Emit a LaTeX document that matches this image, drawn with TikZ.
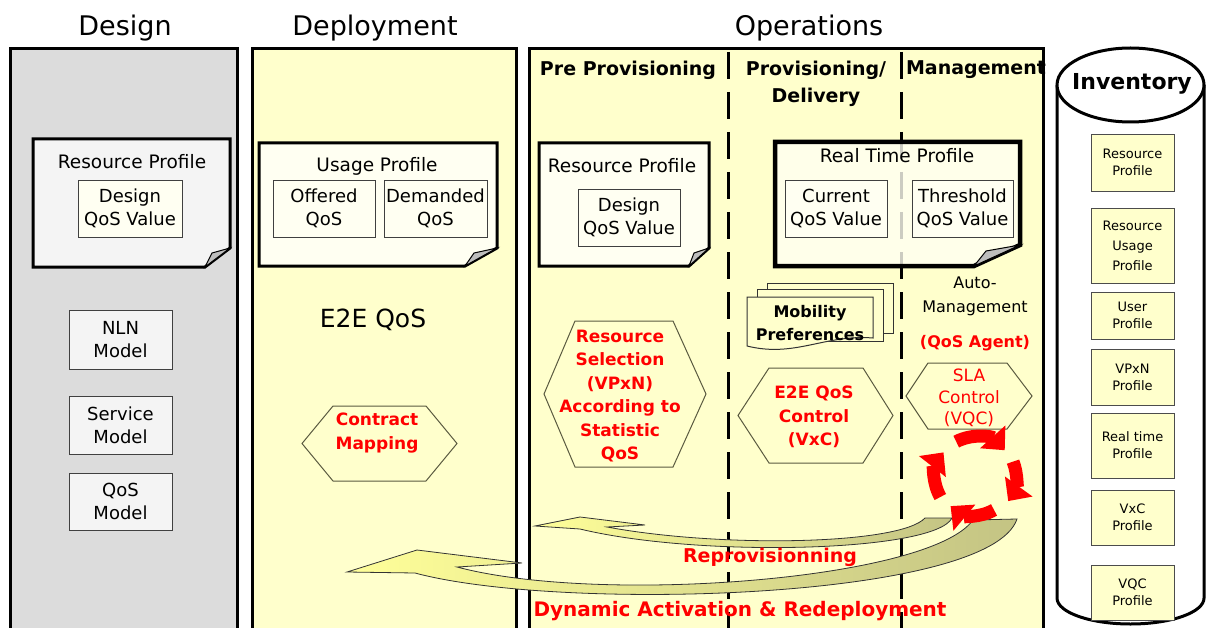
\documentclass[tikz,border=0pt]{standalone}
\usepackage{fontspec}
\setmainfont{DejaVu Sans}
\usepackage{xcolor}
\usepackage{tikz}
\usetikzlibrary{arrows.meta,positioning}

\definecolor{paneltan}{HTML}{FFFFCC}
\definecolor{designgrey}{HTML}{DCDCDC}
\definecolor{sheetgrey}{HTML}{F4F4F4}
\definecolor{sheetcream}{HTML}{FFFFF2}
\definecolor{foldgrey}{HTML}{BDBDBD}
\definecolor{hexline}{HTML}{5A5A40}
\definecolor{sweepyellow}{HTML}{FFFF99}
\definecolor{sweepolive}{HTML}{C4C484}
\definecolor{alarmred}{HTML}{FF0000}
\newcommand{\setfs}[2]{\fontsize{#1}{#2}\selectfont}

\begin{document}
\begin{tikzpicture}[x=1pt, y=-1pt,
        panel/.style={draw=black, line width=3pt},
        sheet/.style={draw=black, line width=3pt, line join=miter},
        fold/.style={draw=black, line width=1pt, fill=foldgrey},
        valbox/.style={draw=black!75, line width=0.9pt, fill=sheetcream, align=center, inner sep=0pt, font=\setfs{18}{23}},
        modelbox/.style={draw=black!75, line width=1pt, fill=sheetgrey, align=center, inner sep=0pt, minimum width=103pt, font=\setfs{18}{23}},
        invbox/.style={draw=black!70, line width=0.8pt, fill=paneltan, align=center, inner sep=0pt, minimum width=83pt, font=\setfs{13}{17}},
        hexa/.style={draw=hexline, line width=1pt, fill=paneltan},
        hextext/.style={text=alarmred, align=center, font=\setfs{17}{23.5}\bfseries},
        colhead/.style={font=\setfs{27}{30}},
        subhead/.style={align=center, font=\setfs{19}{27}\bfseries},
        sheettitle/.style={font=\setfs{18.5}{22}},
        divider/.style={line width=3pt, dash pattern=on 27pt off 13pt},
        sweep/.style={draw=black!80, line width=0.8pt, left color=sweepyellow, right color=sweepolive},
        cyclearrow/.style={alarmred, line width=13pt, -{Triangle[width=33pt,length=18pt]}},
        cyl/.style={draw=black, line width=3pt, fill=white}]
        \useasboundingbox (0,0) rectangle (1206,628);
        \fill[white] (0,0) rectangle (1206,628);

        \node[colhead] (design) at (125,28) {Design};
        \node[colhead] (deploy) at (375,28) {Deployment};
        \node[colhead] (ops) at (809,28) {Operations};

        \draw[panel, fill=designgrey] (10,650) -- (10,49) -- (237,49) -- (237,650);
        \draw[panel, fill=paneltan] (252,650) -- (252,49) -- (516,49) -- (516,650);
        \draw[panel, fill=paneltan] (529,650) -- (529,49) -- (1043,49) -- (1043,650);
        \draw[divider] (728,52) -- (728,640);
        \draw[divider] (901,52) -- (901,640);

        \node[subhead] (prepro) at (628,70) {Pre Provisioning};
        \node[subhead] (prodel) at (816,84) {Provisioning/\\Delivery};
        \node[subhead] (mgmt) at (976,70) {Management};

        % design
        \draw[sheet, fill=sheetgrey] (33,139) -- (230,139) -- (230,248) -- (205,267) -- (33,267) -- cycle;
        \draw[fold] (230,248) -- (212,253) -- (205,267) -- cycle;
        \node[sheettitle] (dprof) at (132,162) {Resource Profile};
        \node[valbox, minimum width=104pt, minimum height=57pt] (dqos) at (130,208.5) {Design\\QoS Value};
        \node[modelbox, minimum height=59pt] (nln) at (120.5,339.5) {NLN\\Model};
        \node[modelbox, minimum height=58pt, below=26pt of nln] (svc) {Service\\Model};
        \node[modelbox, minimum height=57pt, below=18pt of svc] (qosm) {QoS\\Model};

        % deployment
        \draw[sheet, fill=sheetcream] (259,143) -- (497,143) -- (497,248) -- (465,266) -- (259,266) -- cycle;
        \draw[fold] (497,248) -- (474,253) -- (465,266) -- cycle;
        \node[sheettitle] (uprof) at (377,166) {Usage Profile};
        \node[valbox, minimum width=102pt, minimum height=57pt] (offered) at (324,208.5) {Offered\\QoS};
        \node[valbox, minimum width=103pt, minimum height=57pt, right of=offered, node distance=111.5pt] (demanded) {Demanded\\QoS};
        \node[font=\setfs{25}{28}] (e2e) at (373,320) {E2E QoS};
        \draw[hexa] (302,443.5) -- (333,406) -- (426,406) -- (457,443.5) -- (426,481) -- (333,481) -- cycle;
        \node[hextext] (cmap) at (377,433) {Contract\\Mapping};

        % operations
        \draw[sheet, fill=sheetcream] (539,143) -- (709,143) -- (709,248) -- (689,266) -- (539,266) -- cycle;
        \draw[fold] (709,248) -- (694,253) -- (689,266) -- cycle;
        \node[sheettitle] (pprof) at (622,166) {Resource Profile};
        \node[valbox, minimum width=102pt, minimum height=57pt] (pqos) at (629,217.5) {Design\\QoS Value};

        \draw[sheet, line width=4.5pt, fill=sheetcream, fill opacity=0.8] (775,142) -- (1020,142) -- (1020,245) -- (974,266) -- (775,266) -- cycle;
        \draw[fold] (1020,245) -- (986,251) -- (974,266) -- cycle;
        \node[sheettitle] (rtprof) at (897,156) {Real Time Profile};
        \node[valbox, minimum width=102pt, minimum height=57pt] (curq) at (836,208.5) {Current\\QoS Value};
        \node[valbox, minimum width=101pt, minimum height=57pt] (thrq) at (962.5,208.5) {Threshold\\QoS Value};

        \draw[draw=black!80, line width=1pt, fill=paneltan] (767,283) rectangle (893,333);
        \draw[draw=black!80, line width=1pt, fill=paneltan] (757,289) rectangle (883,341);
        \draw[draw=black!80, line width=1pt, fill=paneltan] (747,297) -- (873,297) -- (873,338) .. controls (825,334) and (795,358) .. (747,346) -- cycle;
        \node[align=center, font=\setfs{16}{23}\bfseries] (mobil) at (810,323) {Mobility\\Preferences};

        \draw[hexa] (544,394) -- (575,321) -- (673,321) -- (706,394) -- (673,467) -- (575,467) -- cycle;
        \node[hextext] (rsel) at (620,396) {Resource\\Selection\\(VPxN)\\According to\\Statistic\\QoS};
        \draw[hexa] (738,415.5) -- (769,368) -- (863,368) -- (893,415.5) -- (863,463) -- (769,463) -- cycle;
        \node[hextext] (vxc) at (814,417) {E2E QoS\\Control\\(VxC)};
        \draw[hexa] (906,396) -- (928,363) -- (1007,363) -- (1032,396) -- (1007,429) -- (928,429) -- cycle;
        \node[text=alarmred, align=center, font=\setfs{17}{21.5}] (vqc) at (969,398) {SLA\\Control\\(VQC)};
        \node[align=center, font=\setfs{16}{24}] (auto) at (975,296) {Auto-\\Management};
        \node[text=alarmred, font=\setfs{16}{20}\bfseries] (agent) at (975,343) {(QoS Agent)};

        \draw[sweep] (535,526) -- (580,517) -- (645,525) -- (607,527) .. controls (720,548) and (900,545) .. (925,518) -- (952,518) .. controls (935,552) and (700,558) .. (580,529) -- cycle;
        \draw[sweep] (347,572) -- (417,550) -- (522,563) -- (457,567) .. controls (600,605) and (930,580) .. (973,520) -- (1017,519) .. controls (990,600) and (560,612) .. (415,573) -- cycle;

        \coordinate (loop) at (975,477);
        \draw[cyclearrow] (loop) ++(-118:40) arc[start angle=-118, end angle=-42, radius=40];
        \draw[cyclearrow] (loop) ++(-22:41) arc[start angle=-22, end angle=36, radius=41];
        \draw[cyclearrow] (loop) ++(60:38) arc[start angle=60, end angle=130, radius=38];
        \draw[cyclearrow] (loop) ++(150:40) arc[start angle=150, end angle=218, radius=40];

        \node[text=alarmred, font=\setfs{19}{22}\bfseries] (reprov) at (770,557) {Reprovisionning};
        \node[text=alarmred, font=\setfs{20}{22}\bfseries] (dynact) at (740,611) {Dynamic Activation \& Redeployment};

        % inventory
        \draw[cyl] (1057,85) -- (1057,598) arc[start angle=180, end angle=0, x radius=73.5, y radius=26] -- (1204,85);
        \draw[cyl] (1130.5,85) ellipse[x radius=73.5, y radius=37];
        \node[font=\setfs{22}{24}\bfseries] (inv) at (1132,84) {Inventory};
        \node[invbox, minimum height=57pt] (iresprof) at (1132.5,162.5) {Resource\\Profile};
        \node[invbox, minimum height=75pt, font=\setfs{13}{20}] (iusage) at (1132.5,245.5) {Resource\\Usage\\Profile};
        \node[invbox, minimum height=47pt] (iuser) at (1132.5,315.5) {User\\Profile};
        \node[invbox, minimum height=56pt] (ivpxn) at (1132.5,377) {VPxN\\Profile};
        \node[invbox, minimum height=65pt] (irt) at (1132.5,445.5) {Real time\\Profile};
        \node[invbox, minimum height=55pt] (ivxc) at (1132.5,517.5) {VxC\\Profile};
        \node[invbox, minimum height=55pt] (ivqc) at (1132.5,592.5) {VQC\\Profile};
\end{tikzpicture}
\end{document}
